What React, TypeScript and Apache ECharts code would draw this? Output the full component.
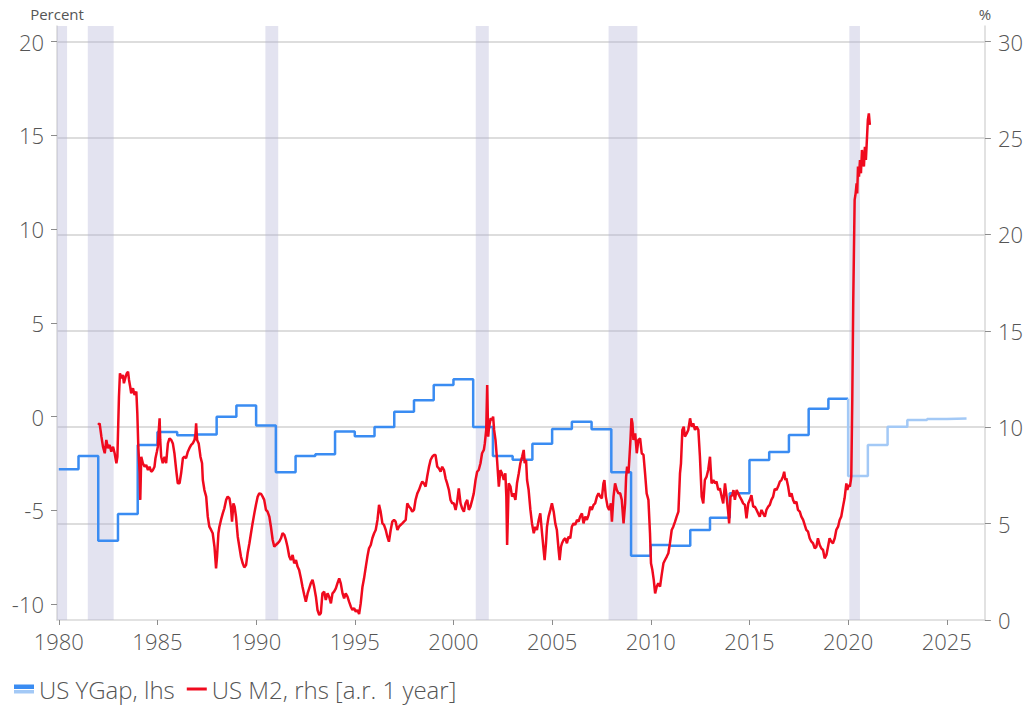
import React, { useEffect, useRef } from "react";
import * as echarts from "echarts";

const FONT = "'Open Sans', 'Noto Sans', sans-serif";

const xTickYears = [1980, 1985, 1990, 1995, 2000, 2005, 2010, 2015, 2020, 2025];
const leftTicks = [-10, -5, 0, 5, 10, 15, 20];
const rightTicks = [0, 5, 10, 15, 20, 25, 30];

const ygapYears = [
  1980, 1981, 1982, 1983, 1984, 1985, 1986, 1987, 1988, 1989,
  1990, 1991, 1992, 1993, 1994, 1995, 1996, 1997, 1998, 1999,
  2000, 2001, 2002, 2003, 2004, 2005, 2006, 2007, 2008, 2009,
  2010, 2011, 2012, 2013, 2014, 2015, 2016, 2017, 2018, 2019, 2020,
];
const ygapValues = [
  -2.81, -2.1, -6.62, -5.2, -1.52, -0.82, -1.0, -0.95, 0.0, 0.6,
  -0.48, -2.97, -2.1, -2.01, -0.79, -1.05, -0.55, 0.26, 0.87, 1.69,
  1.99, -0.55, -2.1, -2.3, -1.45, -0.66, -0.27, -0.68, -2.97, -7.42,
  -6.85, -6.89, -6.05, -5.39, -4.09, -2.32, -1.89, -0.98, 0.42, 0.96, 0.96,
];

const ygapForecastYears = [2020, 2020, 2021, 2022, 2023, 2024, 2025, 2026];
const ygapForecastValues = [0.96, -3.17, -1.52, -0.54, -0.18, -0.13, -0.1, -0.1];

const m2Data: [number, number][] = [
  [1981.99, 10.12], [1982.07, 10.2], [1982.16, 9.51], [1982.24, 8.99], [1982.33, 8.65],
  [1982.41, 9.34], [1982.49, 8.91], [1982.58, 9.08], [1982.66, 8.73], [1982.75, 8.99],
  [1982.83, 8.65], [1982.92, 8.13], [1982.97, 8.47], [1983.05, 11.59], [1983.1, 12.8],
  [1983.17, 12.54], [1983.25, 12.71], [1983.3, 12.28], [1983.39, 12.62], [1983.45, 12.8],
  [1983.51, 12.88], [1983.56, 12.45], [1983.62, 12.1], [1983.67, 11.76], [1983.76, 12.02],
  [1983.84, 11.67], [1983.93, 11.85], [1983.98, 10.72], [1984.03, 8.99], [1984.1, 7.61],
  [1984.13, 6.23], [1984.18, 8.47], [1984.26, 8.13], [1984.35, 7.95], [1984.43, 8.04],
  [1984.52, 7.78], [1984.6, 7.95], [1984.68, 7.69], [1984.77, 7.78], [1984.85, 7.95],
  [1984.9, 8.39], [1984.97, 8.73], [1985.02, 8.99], [1985.07, 9.86], [1985.11, 10.46],
  [1985.14, 9.34], [1985.19, 8.47], [1985.27, 8.13], [1985.36, 8.47], [1985.44, 8.13],
  [1985.53, 9.16], [1985.61, 9.42], [1985.7, 9.34], [1985.78, 9.16], [1985.86, 8.65],
  [1985.95, 7.78], [1986.03, 7.09], [1986.12, 7.09], [1986.2, 7.61], [1986.29, 8.39],
  [1986.37, 8.47], [1986.45, 8.39], [1986.54, 8.73], [1986.62, 8.91], [1986.71, 9.08],
  [1986.79, 9.16], [1986.88, 9.34], [1986.93, 9.68], [1986.96, 10.2], [1987.01, 9.34],
  [1987.09, 9.16], [1987.18, 8.47], [1987.26, 8.13], [1987.3, 7.26], [1987.38, 6.74],
  [1987.47, 6.4], [1987.55, 5.36], [1987.63, 4.84], [1987.72, 4.67], [1987.8, 4.5],
  [1987.89, 3.8], [1987.94, 3.11], [1987.97, 2.68], [1988.02, 3.29], [1988.09, 4.5],
  [1988.14, 4.84], [1988.22, 5.19], [1988.31, 5.53], [1988.39, 5.79], [1988.48, 6.23],
  [1988.56, 6.4], [1988.65, 6.31], [1988.73, 5.79], [1988.78, 5.1], [1988.85, 6.05],
  [1988.91, 5.88], [1988.98, 5.36], [1989.07, 4.32], [1989.15, 3.8], [1989.23, 3.29],
  [1989.32, 2.94], [1989.4, 2.73], [1989.49, 2.85], [1989.57, 3.46], [1989.66, 3.98],
  [1989.74, 4.5], [1989.82, 5.01], [1989.91, 5.53], [1989.99, 5.97], [1990.08, 6.4],
  [1990.16, 6.57], [1990.25, 6.54], [1990.33, 6.4], [1990.41, 6.23], [1990.5, 5.71],
  [1990.58, 5.62], [1990.67, 5.36], [1990.75, 4.84], [1990.84, 4.15], [1990.92, 3.8],
  [1991.0, 3.89], [1991.09, 3.98], [1991.17, 4.06], [1991.26, 4.24], [1991.34, 4.5],
  [1991.43, 4.41], [1991.51, 4.15], [1991.59, 3.8], [1991.68, 3.29], [1991.76, 3.11],
  [1991.85, 3.37], [1991.93, 2.94], [1992.02, 3.11], [1992.1, 2.77], [1992.18, 2.59],
  [1992.27, 2.16], [1992.35, 1.73], [1992.44, 1.3], [1992.52, 0.95], [1992.61, 1.38],
  [1992.69, 1.64], [1992.77, 1.9], [1992.86, 2.08], [1992.94, 1.73], [1993.03, 1.21],
  [1993.11, 0.52], [1993.2, 0.26], [1993.28, 0.35], [1993.36, 1.38], [1993.45, 1.47],
  [1993.53, 1.04], [1993.62, 1.38], [1993.7, 1.21], [1993.79, 0.86], [1993.87, 1.38],
  [1993.95, 1.47], [1994.04, 1.64], [1994.12, 1.9], [1994.21, 2.16], [1994.29, 1.9],
  [1994.38, 1.38], [1994.46, 1.12], [1994.54, 1.38], [1994.63, 1.21], [1994.71, 0.95],
  [1994.8, 0.69], [1994.88, 0.52], [1994.97, 0.61], [1995.05, 0.43], [1995.13, 0.52],
  [1995.22, 0.31], [1995.3, 0.86], [1995.39, 1.73], [1995.47, 2.16], [1995.56, 2.77],
  [1995.64, 3.29], [1995.72, 3.72], [1995.81, 3.89], [1995.89, 4.24], [1995.98, 4.5],
  [1996.06, 4.67], [1996.15, 5.19], [1996.23, 5.97], [1996.31, 5.62], [1996.4, 5.01],
  [1996.48, 4.93], [1996.57, 4.67], [1996.65, 4.32], [1996.73, 4.06], [1996.82, 4.67],
  [1996.9, 5.1], [1996.99, 5.19], [1997.07, 5.1], [1997.16, 4.67], [1997.24, 4.84],
  [1997.32, 4.93], [1997.41, 5.01], [1997.49, 5.1], [1997.58, 5.19], [1997.66, 6.05],
  [1997.75, 5.88], [1997.83, 5.79], [1997.91, 5.62], [1998.0, 5.71], [1998.08, 6.23],
  [1998.17, 6.57], [1998.25, 6.74], [1998.34, 7.0], [1998.42, 7.18], [1998.5, 7.09],
  [1998.59, 6.92], [1998.67, 7.44], [1998.76, 7.95], [1998.84, 8.3], [1998.93, 8.47],
  [1999.01, 8.56], [1999.09, 8.56], [1999.18, 7.95], [1999.26, 7.87], [1999.35, 7.69],
  [1999.43, 7.95], [1999.52, 7.78], [1999.6, 7.35], [1999.68, 7.09], [1999.77, 6.74],
  [1999.85, 6.23], [1999.94, 6.05], [2000.02, 6.05], [2000.11, 5.71], [2000.19, 6.14],
  [2000.27, 6.83], [2000.36, 6.05], [2000.44, 5.79], [2000.53, 5.62], [2000.61, 6.05],
  [2000.7, 6.23], [2000.78, 5.71], [2000.86, 5.88], [2000.95, 6.23], [2001.03, 6.57],
  [2001.12, 7.26], [2001.2, 7.69], [2001.28, 7.78], [2001.37, 8.13], [2001.45, 8.65],
  [2001.54, 8.82], [2001.59, 9.16], [2001.66, 9.86], [2001.71, 12.19], [2001.76, 9.51],
  [2001.79, 9.86], [2001.84, 10.2], [2001.89, 10.46], [2001.96, 10.38], [2002.01, 10.55],
  [2002.06, 9.86], [2002.13, 9.34], [2002.21, 8.3], [2002.3, 6.92], [2002.38, 7.78],
  [2002.46, 7.61], [2002.55, 7.26], [2002.63, 7.61], [2002.68, 6.4], [2002.72, 3.89],
  [2002.77, 5.88], [2002.8, 7.09], [2002.89, 6.92], [2002.97, 6.4], [2003.05, 6.57],
  [2003.14, 6.23], [2003.22, 7.09], [2003.31, 7.61], [2003.39, 8.13], [2003.48, 8.47],
  [2003.56, 8.82], [2003.61, 8.13], [2003.68, 8.3], [2003.73, 7.26], [2003.81, 6.74],
  [2003.9, 5.71], [2003.98, 5.01], [2004.07, 4.5], [2004.15, 4.84], [2004.23, 4.67],
  [2004.32, 5.19], [2004.4, 5.53], [2004.49, 4.5], [2004.57, 3.63], [2004.62, 3.11],
  [2004.69, 3.98], [2004.74, 4.84], [2004.82, 5.36], [2004.91, 5.71], [2004.99, 6.05],
  [2005.08, 5.62], [2005.16, 5.01], [2005.24, 4.67], [2005.33, 3.63], [2005.38, 3.11],
  [2005.45, 3.8], [2005.5, 3.98], [2005.58, 4.15], [2005.67, 4.24], [2005.75, 3.98],
  [2005.83, 4.32], [2005.92, 4.24], [2006.0, 4.84], [2006.09, 5.01], [2006.17, 4.93],
  [2006.26, 5.19], [2006.34, 5.1], [2006.42, 5.36], [2006.51, 5.53], [2006.59, 5.01],
  [2006.68, 5.36], [2006.76, 5.19], [2006.85, 5.45], [2006.93, 5.88], [2007.01, 5.71],
  [2007.1, 5.97], [2007.18, 6.05], [2007.27, 6.4], [2007.35, 6.57], [2007.44, 6.4],
  [2007.52, 6.31], [2007.6, 7.09], [2007.65, 7.26], [2007.72, 6.4], [2007.81, 5.88],
  [2007.89, 5.71], [2007.98, 6.05], [2008.03, 5.1], [2008.11, 6.4], [2008.19, 7.09],
  [2008.28, 6.74], [2008.36, 6.57], [2008.45, 6.57], [2008.53, 6.23], [2008.62, 5.01],
  [2008.7, 6.05], [2008.75, 7.44], [2008.8, 7.95], [2008.87, 7.61], [2008.92, 8.47],
  [2008.97, 9.34], [2009.02, 10.46], [2009.07, 10.2], [2009.12, 9.34], [2009.21, 9.68],
  [2009.29, 8.65], [2009.37, 9.34], [2009.46, 9.42], [2009.54, 8.65], [2009.63, 8.56],
  [2009.71, 7.61], [2009.79, 6.57], [2009.88, 6.23], [2009.96, 4.5], [2010.01, 2.94],
  [2010.08, 2.59], [2010.15, 2.08], [2010.22, 1.38], [2010.3, 1.73], [2010.38, 1.9],
  [2010.47, 1.73], [2010.55, 2.33], [2010.64, 2.94], [2010.72, 3.11], [2010.81, 3.29],
  [2010.89, 3.46], [2010.97, 3.98], [2011.06, 4.67], [2011.14, 4.84], [2011.23, 5.1],
  [2011.31, 5.36], [2011.4, 5.62], [2011.48, 7.61], [2011.53, 8.13], [2011.6, 9.86],
  [2011.67, 10.03], [2011.73, 9.51], [2011.82, 9.68], [2011.9, 9.86], [2011.99, 10.46],
  [2012.07, 10.03], [2012.15, 10.2], [2012.24, 9.86], [2012.32, 10.03], [2012.41, 9.86],
  [2012.49, 8.47], [2012.58, 6.4], [2012.66, 6.05], [2012.74, 7.26], [2012.83, 7.44],
  [2012.91, 7.78], [2013.0, 8.47], [2013.08, 7.09], [2013.17, 7.26], [2013.25, 7.09],
  [2013.33, 7.18], [2013.42, 6.74], [2013.5, 6.83], [2013.59, 6.4], [2013.67, 6.05],
  [2013.76, 7.09], [2013.84, 6.4], [2013.92, 5.62], [2013.97, 5.01], [2014.04, 6.4],
  [2014.13, 6.48], [2014.19, 6.74], [2014.26, 6.23], [2014.35, 6.74], [2014.43, 6.57],
  [2014.51, 6.4], [2014.6, 6.23], [2014.68, 6.05], [2014.77, 5.97], [2014.85, 5.27],
  [2014.94, 6.05], [2015.02, 6.23], [2015.1, 6.48], [2015.19, 5.88], [2015.27, 5.88],
  [2015.36, 5.71], [2015.44, 5.53], [2015.52, 5.36], [2015.61, 5.71], [2015.69, 5.53],
  [2015.78, 5.36], [2015.86, 5.71], [2015.95, 5.88], [2016.03, 5.97], [2016.11, 6.23],
  [2016.2, 6.4], [2016.28, 6.8], [2016.37, 6.74], [2016.45, 6.92], [2016.54, 7.18],
  [2016.62, 7.26], [2016.7, 7.44], [2016.76, 7.69], [2016.82, 7.26], [2016.87, 7.35],
  [2016.96, 6.92], [2017.04, 6.4], [2017.13, 6.57], [2017.21, 6.23], [2017.29, 6.05],
  [2017.38, 6.14], [2017.46, 5.71], [2017.55, 5.62], [2017.63, 5.36], [2017.72, 5.19],
  [2017.8, 4.93], [2017.88, 4.67], [2017.97, 4.58], [2018.05, 4.24], [2018.14, 4.06],
  [2018.22, 3.98], [2018.31, 3.72], [2018.39, 3.8], [2018.47, 4.24], [2018.56, 3.89],
  [2018.64, 3.72], [2018.73, 3.63], [2018.81, 3.2], [2018.9, 3.37], [2018.98, 3.8],
  [2019.06, 4.24], [2019.15, 4.06], [2019.23, 3.98], [2019.32, 4.24], [2019.4, 4.67],
  [2019.49, 4.84], [2019.57, 5.19], [2019.65, 5.36], [2019.74, 5.88], [2019.82, 6.31],
  [2019.91, 7.09], [2019.96, 6.74], [2020.02, 7.0], [2020.09, 6.92], [2020.14, 7.26],
  [2020.16, 7.44], [2020.21, 11.41], [2020.26, 16.6], [2020.33, 21.79], [2020.38, 22.13],
  [2020.43, 22.65], [2020.46, 22.13], [2020.5, 23.52], [2020.55, 23.0], [2020.6, 23.86],
  [2020.65, 23.17], [2020.7, 24.38], [2020.75, 23.86], [2020.8, 23.52], [2020.85, 24.55],
  [2020.9, 23.86], [2020.95, 24.9], [2021.0, 25.94], [2021.05, 26.28], [2021.1, 25.68],
];

const recessionStarts = [1979.91, 1981.47, 1990.47, 2001.13, 2007.86, 2020.06];
const recessionEnds = [1980.42, 1982.78, 1991.12, 2001.79, 2009.32, 2020.6];

const BLUE = "#3a8cf2";
const LIGHT_BLUE = "#a3c9f6";
const RED = "#f00a1e";
const TEXT = "#555555";
const AXIS_LINE = "#d9d9d9";
const TICK = "#8c8c8c";

export default function App() {
  const ref = useRef<HTMLDivElement>(null);

  useEffect(() => {
    if (!ref.current) return;
    const chart = echarts.init(ref.current, null, { renderer: "svg" });

    const ygapData = ygapYears.map((y, i) => [y, ygapValues[i]]);
    const forecastData = ygapForecastYears.map((y, i) => [y, ygapForecastValues[i]]);
    const bands = recessionStarts.map((s, i) => [{ xAxis: s }, { xAxis: recessionEnds[i] }]);

    const legendGradient = new echarts.graphic.LinearGradient(0, 0, 0, 1, [
      { offset: 0, color: BLUE },
      { offset: 0.45, color: BLUE },
      { offset: 0.45, color: "#ffffff" },
      { offset: 0.56, color: "#ffffff" },
      { offset: 0.56, color: LIGHT_BLUE },
      { offset: 1, color: LIGHT_BLUE },
    ]);

    const option: any = {
      animation: false,
      backgroundColor: "#ffffff",
      textStyle: { fontFamily: FONT },
      grid: { left: 57, right: 39, top: 26, bottom: 85, containLabel: false },
      legend: {
        left: 9,
        top: 672,
        itemWidth: 20,
        itemHeight: 9,
        itemGap: 12,
        textStyle: { fontSize: 24, color: TEXT, fontFamily: FONT, fontWeight: 300 },
        data: [
          { name: "US YGap, lhs", icon: "rect", itemStyle: { color: legendGradient } },
          { name: "US M2, rhs [a.r. 1 year]", icon: "path://M0,0H20V3H0Z", itemStyle: { color: RED } },
        ],
      },
      xAxis: {
        type: "value",
        min: 1979.91,
        max: 2026.93,
        axisLine: { show: true, onZero: false, lineStyle: { color: AXIS_LINE, width: 1.5 } },
        axisTick: { show: true, length: 5, customValues: xTickYears, lineStyle: { color: TICK } },
        axisLabel: {
          customValues: xTickYears,
          formatter: (v: number) => String(Math.round(v)),
          color: TEXT,
          fontSize: 22,
          fontFamily: FONT,
          fontWeight: 300,
          margin: 10,
        },
        splitLine: { show: false },
      },
      yAxis: [
        {
          type: "value",
          position: "left",
          min: -10.85,
          max: 20.84,
          name: "Percent",
          nameLocation: "end",
          nameGap: 5,
          nameTextStyle: { fontSize: 15, color: TEXT, fontFamily: FONT, align: "center" },
          axisLine: { show: true, lineStyle: { color: AXIS_LINE, width: 1.5 } },
          axisTick: { show: true, length: 6, customValues: leftTicks, lineStyle: { color: TICK } },
          axisLabel: {
            customValues: leftTicks,
            formatter: (v: number) => String(v),
            color: TEXT,
            fontSize: 22,
            fontFamily: FONT,
            fontWeight: 300,
            margin: 13,
          },
          splitLine: { show: false },
        },
        {
          type: "value",
          position: "right",
          min: 0,
          max: 30.81,
          interval: 5,
          name: "%",
          nameLocation: "end",
          nameGap: 5,
          nameTextStyle: { fontSize: 15, color: TEXT, fontFamily: FONT, align: "center" },
          axisLine: { show: true, lineStyle: { color: AXIS_LINE, width: 1.5 } },
          axisTick: { show: true, length: 6, customValues: rightTicks, lineStyle: { color: TICK } },
          axisLabel: {
            customValues: rightTicks,
            color: TEXT,
            fontSize: 22,
            fontFamily: FONT,
            fontWeight: 300,
            margin: 13,
          },
          splitLine: {
            show: true,
            showMinLine: false,
            lineStyle: { color: "#d2d2d2", width: 1.5 },
          },
        },
      ],
      series: [
        {
          name: "recessions",
          type: "line",
          yAxisIndex: 0,
          data: [],
          z: 1,
          silent: true,
          markArea: {
            silent: true,
            itemStyle: { color: "rgba(178,178,214,0.36)" },
            data: bands,
          },
        },
        {
          name: "US YGap, lhs",
          type: "line",
          yAxisIndex: 0,
          step: "end",
          data: ygapData,
          symbol: "none",
          z: 3,
          lineStyle: { color: BLUE, width: 2.5 },
          itemStyle: { color: BLUE },
        },
        {
          name: "US YGap forecast",
          type: "line",
          yAxisIndex: 0,
          step: "end",
          data: forecastData,
          symbol: "none",
          z: 3,
          lineStyle: { color: LIGHT_BLUE, width: 2.5 },
          itemStyle: { color: LIGHT_BLUE },
        },
        {
          name: "US M2, rhs [a.r. 1 year]",
          type: "line",
          yAxisIndex: 1,
          data: m2Data,
          symbol: "none",
          z: 4,
          lineStyle: { color: RED, width: 2.5 },
          itemStyle: { color: RED },
        },
      ],
    };

    chart.setOption(option);
    return () => chart.dispose();
  }, []);

  return (
    <div
      ref={ref}
      style={{ position: "fixed", left: 0, top: 0, width: 1026, height: 705, background: "#fff" }}
    />
  );
}
